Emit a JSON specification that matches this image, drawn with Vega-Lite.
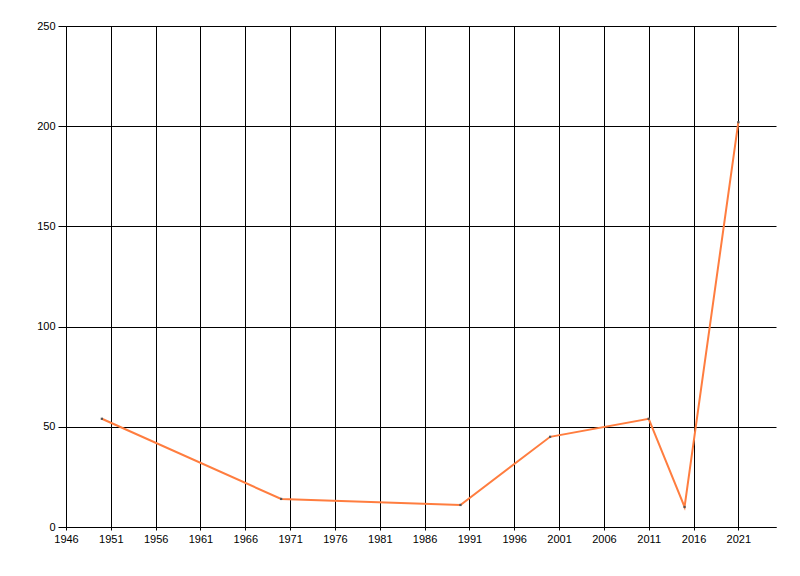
{
  "$schema": "https://vega.github.io/schema/vega-lite/v6.json",
  "width": 710,
  "height": 501,
  "autosize": "none",
  "padding": {"left": 66, "top": 26, "right": 24, "bottom": 49},
  "background": "white",
  "config": {
    "view": {"stroke": null},
    "axis": {
      "labelFont": "Liberation Sans",
      "labelFontSize": 11,
      "labelColor": "black",
      "domainColor": "black",
      "tickColor": "black",
      "gridColor": "black",
      "gridOpacity": 1,
      "gridWidth": 1,
      "domainWidth": 1,
      "tickWidth": 1,
      "title": null
    }
  },
  "data": {
    "values": [
      {"year": 1950, "value": 54},
      {"year": 1970, "value": 14},
      {"year": 1990, "value": 11},
      {"year": 2000, "value": 45},
      {"year": 2011, "value": 54},
      {"year": 2015, "value": 10},
      {"year": 2021, "value": 202}
    ]
  },
  "encoding": {
    "x": {
      "field": "year",
      "type": "quantitative",
      "scale": {"domain": [1946, 2025.2], "nice": false, "zero": false},
      "axis": {
        "values": [1946, 1951, 1956, 1961, 1966, 1971, 1976, 1981, 1986, 1991, 1996, 2001, 2006, 2011, 2016, 2021],
        "format": "d",
        "grid": true,
        "tickSize": 3,
        "labelPadding": 3,
        "labelFlush": false,
        "labelOverlap": false
      }
    },
    "y": {
      "field": "value",
      "type": "quantitative",
      "scale": {"domain": [0, 250], "nice": false},
      "axis": {
        "values": [0, 50, 100, 150, 200, 250],
        "grid": true,
        "tickSize": 8,
        "labelPadding": 3,
        "labelFlush": false,
        "labelOverlap": false
      }
    }
  },
  "layer": [
    {
      "mark": {"type": "line", "color": "#ff7d3f", "strokeWidth": 2}
    },
    {
      "mark": {"type": "point", "shape": "square", "filled": true, "size": 5, "color": "#555555", "opacity": 1}
    }
  ]
}
